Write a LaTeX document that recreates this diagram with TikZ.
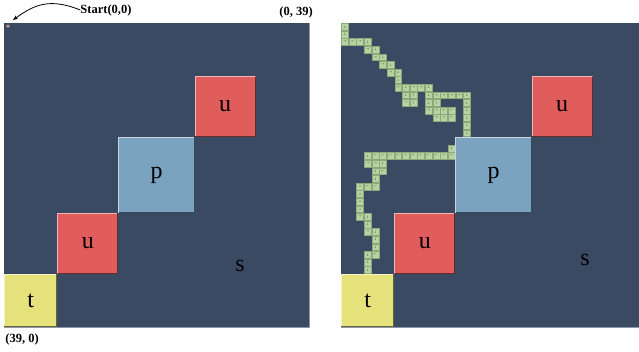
\documentclass[tikz,border=0pt]{standalone}
\usepackage{fontspec}
\setmainfont{Liberation Serif}
\newfontfamily\arrowfont{DejaVu Sans}
\usetikzlibrary{arrows.meta}

\definecolor{board}{HTML}{3B4A63}
\definecolor{boardedge}{HTML}{8C97A8}
\definecolor{goal}{HTML}{E5E27C}
\definecolor{hazard}{HTML}{E15D5B}
\definecolor{pit}{HTML}{7AA3BF}
\definecolor{trail}{HTML}{B6D3A1}
\definecolor{trailedge}{HTML}{8AA878}
\definecolor{trailmark}{HTML}{4F6445}
\definecolor{startmark}{HTML}{F0C490}

% cell size of the 40 x 40 grid
\def\cw{7.625}
\def\ch{7.6}

\tikzset{
  tile/.style={draw=none, inner sep=0pt, outer sep=0pt, anchor=north west,
    font=\fontsize{24}{24}\selectfont},
  trailcell/.style={fill=trail, draw=trailedge, line width=0.4pt,
    minimum width=6.9pt, minimum height=6.9pt, inner sep=0pt,
    font=\arrowfont\fontsize{3.6}{3.6}\selectfont, text=trailmark},
  coordlabel/.style={font=\bfseries\fontsize{12.5}{12.5}\selectfont, inner sep=0pt},
  startarrow/.style={-{Stealth[length=5pt,width=4pt]}, line width=0.8pt},
}

% \blocktile{name}{origin x}{col}{row}{cols}{rows}{colour}{letter}
\newcommand\blocktile[8]{%
  \node[tile, fill=#7, minimum width=#5*\cw pt, minimum height=#6*\ch pt]
    (#1) at ({#2+#3*\cw},{23+#4*\ch}) {#8};
  \draw[white!55!#7, line width=0.9pt]
    ([xshift=0.45pt,yshift=0.45pt]#1.south west) -- ([xshift=0.45pt,yshift=-0.45pt]#1.north west)
    -- ([xshift=-0.45pt,yshift=-0.45pt]#1.north east);
  \draw[black!55!#7, line width=0.9pt]
    ([xshift=-0.45pt,yshift=-0.45pt]#1.north east) -- ([xshift=-0.45pt,yshift=0.45pt]#1.south east)
    -- ([xshift=0.45pt,yshift=0.45pt]#1.south west);
}

\begin{document}
\begin{tikzpicture}[x=1pt,y=-1pt]
\useasboundingbox (0,0) rectangle (639,351);
\begin{scope}
\clip (0,0) rectangle (639,351);

% ---- left board ----
\fill[board] (4,23) rectangle (309,327);
\draw[boardedge, line width=0.6pt] (309,23) -- (309,327) -- (4,327);
\node[inner sep=0pt, text=startmark, font=\bfseries\fontsize{8}{8}\selectfont] (Lstar) at (8,27.5) {*};

\blocktile{Lt}{4}{0}{33}{7}{7}{goal}{t}
\blocktile{Lu1}{4}{7}{25}{8}{8}{hazard}{u}
\blocktile{Lp}{4}{15}{15}{10}{10}{pit}{p}
\blocktile{Lu2}{4}{25}{7}{8}{8}{hazard}{u}
\node[font=\fontsize{24}{24}\selectfont, inner sep=0pt] (Ls) at (240,266) {s};

% ---- right board with the walked trail ----
\fill[board] (341,23) rectangle (646,327);
\draw[boardedge, line width=0.6pt] (341,327) -- (646,327);

\foreach \r/\c/\a in {
  0/0/↓, 1/0/↓, 2/0/→, 2/1/→, 2/2/→, 2/3/↓, 3/3/→, 3/4/↓, 4/4/→, 4/5/↓,
  5/5/→, 5/6/↓, 6/6/→, 6/7/↓, 7/7/↓, 8/7/→, 8/8/↓, 8/9/→, 8/10/→, 8/11/↓,
  9/8/↓, 9/9/↑, 9/11/↓, 9/12/→, 9/13/→, 9/14/→, 9/15/→, 9/16/↓,
  10/8/→, 10/9/↑, 10/11/↓, 10/12/↑, 10/16/↓,
  11/11/→, 11/12/→, 11/13/←, 11/14/←, 11/16/↓,
  12/12/→, 12/13/→, 12/14/←, 12/16/↓, 13/16/↓, 14/16/↓,
  16/14/↓, 17/3/↓, 17/4/←, 17/5/←, 17/6/←, 17/7/←, 17/8/←, 17/9/←,
  17/10/←, 17/11/←, 17/12/←, 17/13/←, 17/14/←,
  18/3/→, 18/4/→, 18/5/↓, 19/4/↓, 19/5/←, 20/4/↓,
  21/2/↓, 21/3/←, 21/4/←, 22/2/↓, 23/2/↓, 24/2/↓, 25/2/→, 25/3/↓,
  26/3/↓, 27/3/→, 27/4/↓, 28/4/↓, 29/4/↓, 30/3/↓, 30/4/←, 31/3/↓, 32/3/↓}
  \node[trailcell] (R-\r-\c) at ({341+(\c+0.5)*\cw},{23+(\r+0.5)*\ch}) {\a};

\blocktile{Rt}{341}{0}{33}{7}{7}{goal}{t}
\blocktile{Ru1}{341}{7}{25}{8}{8}{hazard}{u}
\blocktile{Rp}{341}{15}{15}{10}{10}{pit}{p}
\blocktile{Ru2}{341}{25}{7}{8}{8}{hazard}{u}
\node[font=\fontsize{24}{24}\selectfont, inner sep=0pt] (Rs) at (585,260) {s};
\end{scope}

% ---- corner labels ----
\node[coordlabel] (startlbl) at (106,10) {Start(0,0)};
\node[coordlabel] (toplbl) at (296,12) {(0, 39)};
\node[coordlabel] (botlbl) at (22,339) {(39, 0)};
\coordinate (origin) at (13,20);
\draw[startarrow] (startlbl.west) .. controls +(-30,-12) and +(22,-16) .. (origin);
\end{tikzpicture}
\end{document}
